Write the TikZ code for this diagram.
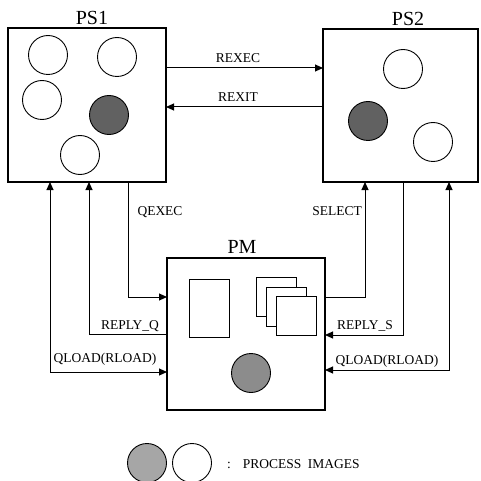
\documentclass[tikz,border=0pt]{standalone}
\usepackage{fontspec}
\setmainfont{Liberation Serif}
\usetikzlibrary{arrows.meta}
\begin{document}
\begin{tikzpicture}[x=1pt,y=-1pt,
  box/.style={draw,line width=1.8pt,minimum width=#1,inner sep=0pt,outer sep=0pt},
  proc/.style={draw,line width=0.9pt,circle,minimum size=39pt,inner sep=0pt},
  gproc/.style={proc,fill=#1},
  sq/.style={draw,line width=0.9pt,fill=white,minimum width=40pt,minimum height=39pt,inner sep=0pt},
  link/.style={line width=1pt},
  tip/.style={-{Triangle[length=8pt,width=7pt]}},
  tips/.style={{Triangle[length=8pt,width=7pt]}-{Triangle[length=8pt,width=7pt]}},
  lbl/.style={font=\fontsize{13.5}{15}\selectfont,anchor=base,inner sep=0pt},
  title/.style={font=\fontsize{20}{22}\selectfont,anchor=base,inner sep=0pt}]
\useasboundingbox (0,0) rectangle (480,481);
% boxes
\node[box=158pt,minimum height=154pt] (ps1) at (87,105) {};
\node[box=155pt,minimum height=153pt] (ps2) at (400.5,105.5) {};
\node[box=158pt,minimum height=152pt] (pm) at (246,334) {};
% titles
\node[title] (t1) at (92,25) {PS1};
\node[title] (t2) at (408,26) {PS2};
\node[title] (t3) at (242,253) {PM};
% PS1 contents
\node[proc] (c11) at (48,55) {};
\node[proc] (c12) at (117,57) {};
\node[proc] (c13) at (42,100) {};
\node[gproc=black!62] (c14) at (109,115) {};
\node[proc] (c15) at (80,155) {};
% PS2 contents
\node[proc] (c21) at (403,69) {};
\node[gproc=black!62] (c22) at (368,121) {};
\node[proc] (c23) at (433,142) {};
% PM contents
\node[draw,line width=0.9pt,minimum width=40pt,minimum height=58pt,inner sep=0pt] (r1) at (209,308) {};
\node[sq] (s1) at (276,296.5) {};
\node[sq] (s2) at (286,306.5) {};
\node[sq] (s3) at (296,316) {};
\node[gproc=black!45] (c31) at (251,373) {};
% coordinates
\coordinate (yrexec) at (0,68);
\coordinate (yrexit) at (0,107);
\coordinate (qexec) at (128,297);
\coordinate (replyq) at (89,334);
\coordinate (qloadl) at (50,372);
\coordinate (select) at (365,297);
\coordinate (replys) at (403,335);
\coordinate (qloadr) at (449,370);
% connectors
\draw[link,tip] (ps1.east |- yrexec) -- (ps2.west |- yrexec);
\draw[link,tip] (ps2.west |- yrexit) -- (ps1.east |- yrexit);
\draw[link,tip] (ps1.south -| qexec) |- (pm.west |- qexec);
\draw[link,tip] (pm.west |- replyq) -| (ps1.south -| replyq);
\draw[link,tips] (ps1.south -| qloadl) |- (pm.west |- qloadl);
\draw[link,tip] (pm.east |- select) -| (ps2.south -| select);
\draw[link,tip] (ps2.south -| replys) |- (pm.east |- replys);
\draw[link,tips] (ps2.south -| qloadr) |- (pm.east |- qloadr);
% labels
\node[lbl] (l1) at (238,63) {REXEC};
\node[lbl] (l2) at (238,102) {REXIT};
\node[lbl] (l3) at (160,215) {QEXEC};
\node[lbl] (l4) at (337,215) {SELECT};
\node[lbl] (l5) at (130,329) {REPLY\_Q};
\node[lbl] (l6) at (365,329) {REPLY\_S};
\node[lbl] (l7) at (105,362) {QLOAD(RLOAD)};
\node[lbl] (l8) at (387,364) {QLOAD(RLOAD)};
% legend
\node[gproc=black!35] (g1) at (147,463) {};
\node[proc] (g2) at (192,463) {};
\node[lbl,anchor=base west] (lg) at (227,468) {:\hspace{12pt}PROCESS\hspace{3pt} IMAGES};
\end{tikzpicture}
\end{document}
